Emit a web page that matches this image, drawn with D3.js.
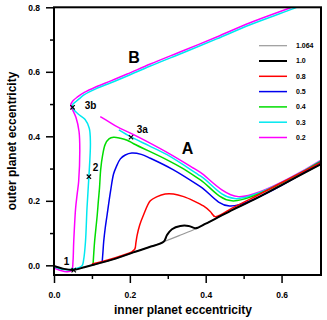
<!DOCTYPE html>
<html>
<head>
<meta charset="utf-8">
<script src="https://cdn.jsdelivr.net/npm/d3@7"></script>
<style>
  body { margin: 0; background: #fff; }
  text { font-family: "Liberation Sans", Arial, sans-serif; font-weight: bold; }
</style>
</head>
<body>
<div id="chart"></div>
<script>
// curves: [inner e, outer e]
const baseline = [[0,-0.002],[0.026,-0.011],[0.052,-0.014],[0.08,-0.006],[0.105,0.002],[0.13,0.01],[0.17,0.024],[0.209,0.04],[0.25,0.056],[0.289,0.073],[0.33,0.092],[0.377,0.115],[0.4,0.129],[0.425,0.144],[0.472,0.173],[0.517,0.198],[0.6,0.249],[0.704,0.314]];
const curve10 = [[0,-0.002],[0.026,-0.011],[0.052,-0.014],[0.08,-0.006],[0.105,0.002],[0.13,0.01],[0.17,0.024],[0.209,0.04],[0.25,0.056],[0.289,0.073],[0.298,0.094],[0.311,0.112],[0.333,0.122],[0.355,0.122],[0.372,0.115],[0.38,0.117],[0.4,0.129],[0.425,0.144],[0.472,0.173],[0.517,0.198],[0.6,0.249],[0.704,0.314]];
const curve08 = [[0.10,0.004],[0.13,0.013],[0.17,0.027],[0.205,0.042],[0.213,0.05],[0.216,0.07],[0.219,0.092],[0.226,0.125],[0.236,0.156],[0.254,0.2],[0.272,0.213],[0.293,0.221],[0.315,0.221],[0.342,0.213],[0.368,0.2],[0.394,0.184],[0.412,0.167],[0.425,0.151],[0.472,0.179],[0.517,0.205],[0.6,0.256],[0.704,0.319]];
const curve05 = [[0.127,0.01],[0.129,0.04],[0.131,0.073],[0.135,0.115],[0.14,0.156],[0.149,0.229],[0.157,0.283],[0.164,0.305],[0.175,0.33],[0.188,0.342],[0.205,0.348],[0.23,0.344],[0.254,0.332],[0.315,0.296],[0.386,0.244],[0.463,0.184],[0.704,0.321]];
const curve04 = [[0.103,0.003],[0.105,0.04],[0.107,0.073],[0.114,0.156],[0.117,0.2],[0.12,0.24],[0.123,0.296],[0.128,0.34],[0.135,0.375],[0.145,0.392],[0.157,0.397],[0.175,0.394],[0.193,0.388],[0.21,0.377],[0.298,0.327],[0.337,0.302],[0.386,0.265],[0.469,0.2],[0.704,0.323]];
const curve03 = [[0,-0.004],[0.026,-0.013],[0.061,-0.009],[0.074,-0.001],[0.078,0.016],[0.083,0.073],[0.087,0.177],[0.092,0.275],[0.096,0.379],[0.093,0.425],[0.082,0.452],[0.063,0.47],[0.05,0.487],[0.05,0.5],[0.056,0.506],[0.066,0.516],[0.08,0.529],[0.11,0.547],[0.15,0.566],[0.193,0.587],[0.254,0.618],[0.342,0.66],[0.429,0.702],[0.517,0.746],[0.622,0.792],[0.66,0.81]];
const curve03a = [[0.171,0.42],[0.203,0.398],[0.25,0.371],[0.298,0.343],[0.386,0.277],[0.476,0.207],[0.704,0.324]];
const curve02 = [[0,-0.008],[0.017,-0.016],[0.035,-0.02],[0.047,-0.015],[0.05,0.011],[0.052,0.073],[0.057,0.177],[0.061,0.22],[0.065,0.26],[0.068,0.358],[0.066,0.415],[0.058,0.458],[0.048,0.485],[0.044,0.497],[0.05,0.51],[0.062,0.522],[0.08,0.536],[0.11,0.553],[0.15,0.572],[0.193,0.593],[0.254,0.624],[0.342,0.666],[0.429,0.708],[0.517,0.752],[0.622,0.798],[0.66,0.815]];
const curve02a = [[0.122,0.461],[0.145,0.445],[0.166,0.43],[0.21,0.405],[0.298,0.35],[0.368,0.301],[0.386,0.288],[0.486,0.213],[0.704,0.326]];

const legendLabels = ['1.064', '1.0', '0.8', '0.5', '0.4', '0.3', '0.2'];
const legendColors = ['#999999', '#000000', '#ff0000', '#0000ee', '#00dd00', '#00e8f0', '#ff00ff'];

const markers = [[0.049,0.49],[0.203,0.397],[0.092,0.275],[0.052,-0.015]];
const pointLabels = [['3b',0.081,0.485],['3a',0.218,0.41],['2',0.102,0.293],['1',0.026,0.002]];
const regionLabels = [['B',0.211,0.627],['A',0.352,0.345]];

const xMajor = [0, 0.2, 0.4, 0.6], xMinor = [0.1, 0.3, 0.5];
const yMajor = [0, 0.2, 0.4, 0.6, 0.8], yMinor = [0.1, 0.3, 0.5, 0.7];

const width = 327, height = 320;
const plotLeft = 54, plotRight = 321, plotTop = 7.3, plotBottom = 275;

const svg = d3.select('#chart').append('svg')
    .attr('width', width)
    .attr('height', height);

const x = d3.scaleLinear().domain([0, 0.704]).range([plotLeft, plotRight]);
const y = d3.scaleLinear().domain([-0.03, 0.8]).range([plotBottom, plotTop]);

svg.append('clipPath').attr('id', 'clip')
    .append('rect')
    .attr('x', plotLeft).attr('y', plotTop)
    .attr('width', plotRight - plotLeft).attr('height', plotBottom - plotTop);

const line = d3.line()
    .x(d => x(d[0]))
    .y(d => y(d[1]))
    .curve(d3.curveCatmullRom.alpha(0.5));

const plot = svg.append('g').attr('clip-path', 'url(#clip)');

// draw order: gray underneath, black on top
const series = [
    { data: baseline, color: legendColors[0], w: 1.2 },
    { data: curve02, color: legendColors[6], w: 1.5 },
    { data: curve02a, color: legendColors[6], w: 1.5 },
    { data: curve03, color: legendColors[5], w: 1.5 },
    { data: curve03a, color: legendColors[5], w: 1.5 },
    { data: curve04, color: legendColors[4], w: 1.5 },
    { data: curve05, color: legendColors[3], w: 1.5 },
    { data: curve08, color: legendColors[2], w: 1.5 },
    { data: curve10, color: legendColors[1], w: 2 }
];

plot.selectAll('.curve')
    .data(series)
    .enter()
    .append('path')
    .attr('class', 'curve')
    .attr('d', d => line(d.data))
    .attr('fill', 'none')
    .attr('stroke', d => d.color)
    .attr('stroke-width', d => d.w);

// axes
const xAxis = svg.append('g').attr('transform', `translate(0,${plotBottom})`)
    .call(d3.axisBottom(x).tickValues(xMajor).tickSize(8).tickFormat(d3.format('.1f')));
svg.append('g').attr('transform', `translate(0,${plotBottom})`)
    .call(d3.axisBottom(x).tickValues(xMinor).tickSize(4).tickFormat(''));
const yAxis = svg.append('g').attr('transform', `translate(${plotLeft},0)`)
    .call(d3.axisLeft(y).tickValues(yMajor).tickSize(8).tickFormat(d3.format('.1f')));
svg.append('g').attr('transform', `translate(${plotLeft},0)`)
    .call(d3.axisLeft(y).tickValues(yMinor).tickSize(4).tickFormat(''));

svg.selectAll('.domain').remove();
svg.selectAll('.tick line').attr('stroke', '#000').attr('stroke-width', 1.5);
xAxis.selectAll('text').attr('y', 17).attr('dy', '0.71em')
    .style('font-size', '8.5px').attr('fill', '#000');
yAxis.selectAll('text').attr('x', -14)
    .style('font-size', '8.5px').attr('fill', '#000');

// frame
svg.append('rect')
    .attr('x', plotLeft).attr('y', plotTop)
    .attr('width', plotRight - plotLeft).attr('height', plotBottom - plotTop)
    .attr('fill', 'none')
    .attr('stroke', '#000')
    .attr('stroke-width', 2);

// axis titles
svg.append('text')
    .attr('x', 183).attr('y', 313.5)
    .attr('text-anchor', 'middle')
    .style('font-size', '12px')
    .text('inner planet eccentricity');

svg.append('text')
    .attr('transform', 'translate(15.5,141) rotate(-90)')
    .attr('text-anchor', 'middle')
    .style('font-size', '12px')
    .text('outer planet eccentricity');

// markers and labels
svg.selectAll('.mark')
    .data(markers)
    .enter()
    .append('path')
    .attr('class', 'mark')
    .attr('transform', d => `translate(${x(d[0])},${y(d[1])})`)
    .attr('d', d3.symbol(d3.symbolTimes, 14))
    .attr('fill', 'none')
    .attr('stroke', '#000')
    .attr('stroke-width', 1.2);

svg.selectAll('.plabel')
    .data(pointLabels)
    .enter()
    .append('text')
    .attr('class', 'plabel')
    .attr('x', d => x(d[1]))
    .attr('y', d => y(d[2]))
    .style('font-size', '10px')
    .text(d => d[0]);

svg.selectAll('.rlabel')
    .data(regionLabels)
    .enter()
    .append('text')
    .attr('class', 'rlabel')
    .attr('x', d => x(d[1]))
    .attr('y', d => y(d[2]))
    .attr('text-anchor', 'middle')
    .style('font-size', '16px')
    .text(d => d[0]);

// legend
const legend = svg.append('g').attr('transform', 'translate(259,45.7)');
const rows = legend.selectAll('g')
    .data(legendLabels)
    .enter()
    .append('g')
    .attr('transform', (d, i) => `translate(0,${i * 15.3})`);

rows.append('line')
    .attr('x1', 0).attr('x2', 28)
    .attr('stroke', (d, i) => legendColors[i])
    .attr('stroke-width', (d, i) => i === 0 ? 1.2 : (i === 1 ? 2 : 1.5));

rows.append('text')
    .attr('x', 37).attr('dy', '0.35em')
    .style('font-size', '7px')
    .text(d => d);
</script>
</body>
</html>
